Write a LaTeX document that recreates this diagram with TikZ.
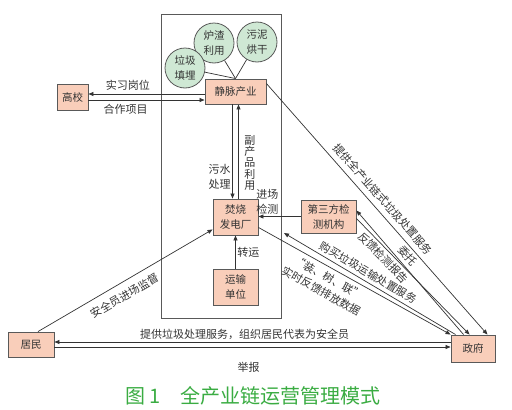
\documentclass[tikz,border=0pt]{standalone}
\usepackage{fontspec}
\setmainfont{Noto Sans CJK SC}
\usetikzlibrary{arrows.meta}
\definecolor{boxfill}{RGB}{249,206,186}
\definecolor{ballfill}{RGB}{207,232,212}
\definecolor{capgreen}{RGB}{58,172,66}

\begin{document}
\begin{tikzpicture}[x=1pt,y=-1pt,
  every node/.style={font=\fontsize{10.5}{15}\selectfont, text=black!80},
  box/.style={draw=black!65, line width=0.9pt, fill=boxfill, inner sep=0pt, align=center},
  ball/.style={circle, draw=black!65, line width=0.8pt, fill=ballfill, minimum size=40pt, inner sep=0pt, align=center},
  link/.style={draw=black!80, line width=0.7pt},
  arr/.style={link, -{Triangle[length=5pt,width=4pt]}},
  rarr/.style={link, {Triangle[length=5pt,width=4pt]}-},
  lbl/.style={inner sep=1.5pt, align=center, font=\fontsize{11}{15}\selectfont}]
  \useasboundingbox (0,0) rectangle (512,410);

  % frame of the industry chain
  \node[draw=black!65, line width=0.8pt, minimum width=120, minimum height=304, inner sep=0pt] (fr) at (221,166) {};

  \node[box, minimum width=61, minimum height=25] (jm) at (235.5,91.5) {静脉产业};
  \node[box, minimum width=31, minimum height=26] (gx) at (72.5,97) {高校};
  \node[box, minimum width=45, minimum height=36] (fs) at (235.5,217) {焚烧\\发电厂};
  \node[box, minimum width=45, minimum height=36] (ys) at (235.5,287) {运输\\单位};
  \node[box, minimum width=55, minimum height=33] (jc) at (328.5,216.5) {第三方检\\测机构};
  \node[box, minimum width=46, minimum height=25] (jmin) at (31,344.5) {居民};
  \node[box, minimum width=44, minimum height=27] (zf) at (473,348.5) {政府};

  \node[ball] (lz) at (214,43) {炉渣\\利用};
  \node[ball] (wn) at (257,42) {污泥\\烘干};
  \node[ball] (tm) at (185,68) {垃圾\\填埋};
  \draw[link] (tm) -- (jm.north);
  \draw[link] (lz) -- (jm.north);
  \draw[link] (wn) -- (jm.north);

  % school
  \coordinate (gxa) at ([yshift=3pt]gx.east);
  \coordinate (gxb) at ([yshift=-3pt]gx.east);
  \draw[arr] (gxa -| jm.west) -- node[lbl, above=2pt, pos=0.66] (sx) {实习岗位} (gxa);
  \draw[arr] (gxb) -- node[lbl, below=2pt, pos=0.32] (hz) {合作项目} (gxb -| jm.west);

  % inside the frame
  \draw[arr] ([xshift=-3pt]jm.south) -- node[lbl, left, pos=0.77] (ws) {污水\\处理} ([xshift=-3pt]fs.north);
  \draw[arr] ([xshift=3pt]fs.north) -- node[lbl, right, pos=0.38, xshift=4pt, font=\fontsize{11}{11.2}\selectfont] (fc) {副\\产\\品\\利\\用} ([xshift=3pt]jm.south);
  \draw[arr] (jc.west) -- node[lbl, above, pos=0.79] (jr) {进场\\检测} (jc.west -| fs.east);
  \draw[arr] (ys) -- node[lbl, right] (zy) {转运} (fs);

  % residents
  \draw[arr] ([xshift=7pt]jmin.north) -- node[lbl, sloped, below=6pt, pos=0.46] (aq) {安全员进场监督} ([yshift=6pt]fs.south west);
  \coordinate (jma) at ([yshift=2.5pt]jmin.east);
  \coordinate (jmb) at ([yshift=-2.5pt]jmin.east);
  \draw[arr] (jma -| zf.west) -- node[lbl, above, pos=0.52] (tg) {提供垃圾处理服务，组织居民代表为安全员} (jma);
  \draw[arr] (jmb) -- node[lbl, below=13pt, pos=0.49] (jb) {举报} (jmb -| zf.west);

  % government
  \draw[arr] ([yshift=-5pt]jm.north east) -- node[lbl, sloped, above=4pt, pos=0.49] (qc) {提供全产业链式垃圾处置服务}
    node[lbl, sloped, below=1pt, pos=0.665] (wt) {委托} ([xshift=-8pt]zf.north east);
  \draw[arr] ([yshift=8pt]fs.south east) -- node[lbl, sloped, below=3pt, pos=0.39] (pf) {“装、树、联”\\实时反馈排放数据} (zf.north west);
  \coordinate (buy) at (284,233);
  \draw[rarr] (buy) -- node[lbl, sloped, above=2pt, pos=0.465] (gm) {购买垃圾运输处置服务} ([xshift=5pt]zf.north west);
  \draw[arr] ([xshift=13pt]zf.north west) -- ([yshift=6pt]jc.east);
  \draw[arr] ([yshift=-2pt]jc.east) -- node[lbl, sloped, below=1pt, pos=0.29] (fk) {反馈检测报告} ([xshift=19pt]zf.north west);

  \node[font=\fontsize{20}{22}\selectfont, text=capgreen] (cap) at (253,396) {图 1\quad 全产业链运营管理模式};
\end{tikzpicture}
\end{document}
